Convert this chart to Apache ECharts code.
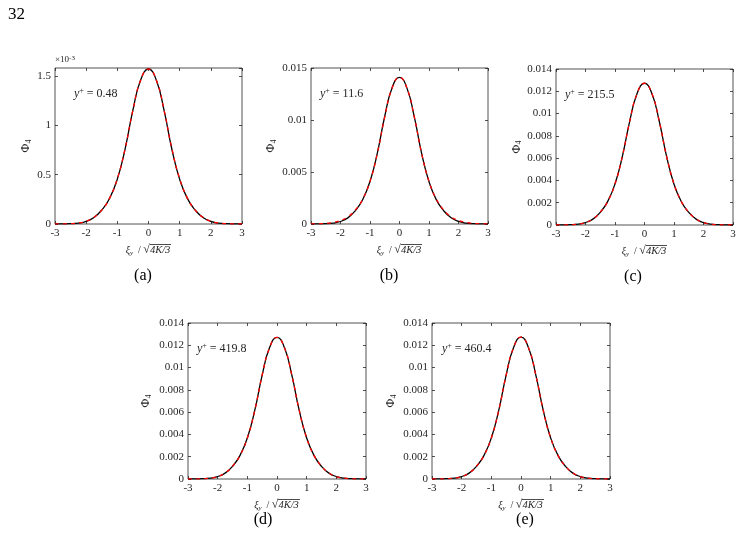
<!DOCTYPE html>
<html>
<head>
<meta charset="utf-8">
<script src="https://cdn.jsdelivr.net/npm/echarts@6/dist/echarts.min.js"></script>
<style>
  html, body { margin: 0; padding: 0; background: #fff; }
  #chart { width: 741px; height: 542px; }
</style>
</head>
<body>
<div id="chart"></div>
<script>
// xi_y / sqrt(4K/3) sample points
const xs = [-3, -2.75, -2.5, -2.25, -2, -1.75, -1.5, -1.25, -1, -0.75, -0.5, -0.25, 0,
  0.25, 0.5, 0.75, 1, 1.25, 1.5, 1.75, 2, 2.25, 2.5, 2.75, 3]

// (a) in units of 1e-3
const phiA = [0.0003, 0.0011, 0.0031, 0.0094, 0.027, 0.066, 0.141, 0.259, 0.455, 0.761, 1.154, 1.460, 1.57,
  1.458, 1.150, 0.757, 0.452, 0.257, 0.140, 0.065, 0.026, 0.009, 0.003, 0.001, 0.0003]
const phiAfit = [0.0002, 0.0009, 0.003, 0.0098, 0.028, 0.067, 0.140, 0.262, 0.459, 0.764, 1.152, 1.458, 1.57,
  1.458, 1.152, 0.764, 0.459, 0.262, 0.140, 0.067, 0.028, 0.0098, 0.003, 0.0009, 0.0002]

const phiB = [0.000003, 0.00001, 0.000028, 0.000085, 0.00024, 0.00059, 0.00127, 0.00233, 0.00409, 0.00684, 0.01036, 0.01311, 0.0141,
  0.01309, 0.01032, 0.00680, 0.00406, 0.00232, 0.00127, 0.00060, 0.00025, 0.00009, 0.00003, 0.00001, 0.000003]
const phiBfit = [0.000005, 0.00002, 0.00006, 0.00015, 0.00034, 0.00069, 0.00134, 0.00238, 0.00410, 0.00680, 0.01030, 0.01308, 0.0141,
  0.01308, 0.01030, 0.00680, 0.00410, 0.00238, 0.00134, 0.00069, 0.00034, 0.00015, 0.00006, 0.00002, 0.000005]

const phiC = [0.0000025, 0.0000089, 0.000025, 0.000076, 0.00022, 0.00053, 0.00114, 0.0021, 0.00368, 0.00616, 0.00933, 0.01181, 0.01272,
  0.01180, 0.00931, 0.00614, 0.00366, 0.00209, 0.00113, 0.00053, 0.00022, 0.000076, 0.000025, 0.0000089, 0.0000025]
const phiCfit = [0.000002, 0.000008, 0.000024, 0.000078, 0.00023, 0.00054, 0.00115, 0.0021, 0.00369, 0.00616, 0.00932, 0.01180, 0.01272,
  0.01180, 0.00932, 0.00616, 0.00369, 0.0021, 0.00115, 0.00054, 0.00023, 0.000078, 0.000024, 0.000008, 0.000002]

const phiD = [0.0000025, 0.0000089, 0.000025, 0.000076, 0.00022, 0.00053, 0.00114, 0.0021, 0.00368, 0.00615, 0.00932, 0.01180, 0.01271,
  0.01180, 0.00932, 0.00615, 0.00368, 0.0021, 0.00114, 0.00053, 0.00022, 0.000076, 0.000025, 0.0000089, 0.0000025]
const phiDfit = [0.000002, 0.000008, 0.000024, 0.000077, 0.00022, 0.00054, 0.00115, 0.0021, 0.00368, 0.00615, 0.00931, 0.01179, 0.01271,
  0.01179, 0.00931, 0.00615, 0.00368, 0.0021, 0.00115, 0.00054, 0.00022, 0.000077, 0.000024, 0.000008, 0.000002]

const phiE = [0.0000025, 0.0000089, 0.000025, 0.000076, 0.00022, 0.00053, 0.00114, 0.0021, 0.00368, 0.00616, 0.00933, 0.01181, 0.01273,
  0.01181, 0.00933, 0.00616, 0.00368, 0.0021, 0.00114, 0.00053, 0.00022, 0.000076, 0.000025, 0.0000089, 0.0000025]
const phiEfit = [0.000002, 0.000008, 0.000024, 0.000077, 0.00022, 0.00054, 0.00115, 0.0021, 0.00369, 0.00616, 0.00932, 0.01180, 0.01273,
  0.01180, 0.00932, 0.00616, 0.00369, 0.0021, 0.00115, 0.00054, 0.00022, 0.000077, 0.000024, 0.000008, 0.000002]

const yPlus = ['0.48', '11.6', '215.5', '419.8', '460.4']
const tags = ['(a)', '(b)', '(c)', '(d)', '(e)']
const yMax = [1.58, 0.015, 0.014, 0.014, 0.014]
const yStep = [0.5, 0.005, 0.002, 0.002, 0.002]
const xTicks = [-3, -2, -1, 0, 1, 2, 3]

const dns = [phiA, phiB, phiC, phiD, phiE]
const fits = [phiAfit, phiBfit, phiCfit, phiDfit, phiEfit]

// layout
const boxes = [
  {left: 55, top: 68, width: 187, height: 156, nameGap: 22, tagX: 143, tagY: 276, annX: 19},
  {left: 311, top: 68, width: 177, height: 156, nameGap: 33, tagX: 389, tagY: 276, annX: 9},
  {left: 556, top: 69, width: 177, height: 156, nameGap: 31, tagX: 633, tagY: 277, annX: 9},
  {left: 188, top: 323, width: 178, height: 156, nameGap: 35, tagX: 263, tagY: 520, annX: 9},
  {left: 432, top: 323, width: 178, height: 156, nameGap: 34, tagX: 525, tagY: 520, annX: 10},
]

const serif = '"Liberation Serif", "DejaVu Serif", serif'
const ink = '#262626'

// small image used as an overline above the radicand
const bar = document.createElement('canvas')
bar.width = 4
bar.height = 20
const bctx = bar.getContext('2d')
bctx.fillStyle = '#333'
bctx.fillRect(0, 0, 4, 1.6)

const xNameRich = {
  i: {fontFamily: serif, fontStyle: 'italic', fontSize: 10, color: ink, lineHeight: 14},
  s: {fontFamily: serif, fontStyle: 'italic', fontSize: 7, color: ink, lineHeight: 8, verticalAlign: 'bottom'},
  n: {fontFamily: serif, fontSize: 10, color: ink, lineHeight: 14},
  r: {fontFamily: serif, fontSize: 12, color: ink, lineHeight: 14},
  o: {fontFamily: serif, fontStyle: 'italic', fontSize: 10.5, color: ink, lineHeight: 14,
    padding: [1, 1, 0, 0], backgroundColor: {image: bar}},
}
const yNameRich = {
  p: {fontFamily: serif, fontSize: 12, color: ink, lineHeight: 14},
  s: {fontFamily: serif, fontSize: 8, color: ink, lineHeight: 8, verticalAlign: 'bottom'},
}

const tickStyle = {inside: true, length: 3, lineStyle: {color: ink, width: 0.8}}

const grid = [], xAxis = [], yAxis = [], series = [], graphic = []

boxes.forEach((b, i) => {
  grid.push({left: b.left, top: b.top, width: b.width, height: b.height,
    show: true, borderColor: ink, borderWidth: 0.8, backgroundColor: '#fff'})
  xAxis.push({
    type: 'value', gridIndex: i, min: -3, max: 3, interval: 1, position: 'bottom',
    axisLine: {show: false, onZero: false},
    axisTick: tickStyle,
    axisLabel: {color: ink, fontFamily: serif, fontSize: 11, margin: 4,
      customValues: xTicks, formatter: v => String(v)},
    splitLine: {show: false},
    name: '{i|ξ}{s|y}{n|  / }{r|√}{o|4K/3}',
    nameLocation: 'middle', nameGap: 19,
    nameTextStyle: {rich: xNameRich},
  })
  xAxis.push({
    type: 'value', gridIndex: i, min: -3, max: 3, interval: 1, position: 'top',
    axisLine: {show: false, onZero: false}, axisLabel: {show: false}, splitLine: {show: false},
    axisTick: tickStyle,
  })
  yAxis.push({
    type: 'value', gridIndex: i, min: 0, max: yMax[i], interval: yStep[i], position: 'left',
    axisLine: {show: false, onZero: false},
    axisTick: tickStyle,
    axisLabel: {color: ink, fontFamily: serif, fontSize: 11, margin: 4, showMaxLabel: i !== 0,
      formatter: v => String(+v.toFixed(4))},
    splitLine: {show: false},
    name: '{p|Φ}{s|4}', nameLocation: 'middle', nameGap: b.nameGap,
    nameTextStyle: {rich: yNameRich},
  })
  yAxis.push({
    type: 'value', gridIndex: i, min: 0, max: yMax[i], interval: yStep[i], position: 'right',
    axisLine: {show: false, onZero: false}, axisLabel: {show: false}, splitLine: {show: false},
    axisTick: tickStyle,
  })
  series.push({
    type: 'line', xAxisIndex: 2 * i, yAxisIndex: 2 * i, smooth: true, symbol: 'none',
    lineStyle: {color: '#000', width: 1.3}, silent: true,
    data: xs.map((x, k) => [x, dns[i][k]]),
  })
  series.push({
    type: 'line', xAxisIndex: 2 * i, yAxisIndex: 2 * i, smooth: true, symbol: 'none',
    lineStyle: {color: '#ff0000', width: 1.3, type: [4, 4]}, silent: true,
    data: xs.map((x, k) => [x, fits[i][k]]),
  })
  graphic.push({
    type: 'text', x: b.left + b.annX, y: b.top + 26,
    style: {
      text: '{i|y}{p|+}{n| = ' + yPlus[i] + '}',
      verticalAlign: 'middle',
      rich: {
        i: {fontFamily: serif, fontStyle: 'italic', fontSize: 12, fill: ink, lineHeight: 14},
        p: {fontFamily: serif, fontSize: 8, fill: ink, lineHeight: 8, verticalAlign: 'top'},
        n: {fontFamily: serif, fontSize: 12, fill: ink, lineHeight: 14},
      },
    },
  })
  graphic.push({
    type: 'text', x: b.tagX, y: b.tagY,
    style: {text: tags[i], font: '16px ' + serif, fill: '#000', align: 'center', verticalAlign: 'middle'},
  })
})

graphic.push({
  type: 'text', x: 8, y: 15,
  style: {text: '32', font: '17px ' + serif, fill: '#000', verticalAlign: 'middle'},
})
graphic.push({
  type: 'text', x: 55, y: 60,
  style: {
    text: '{n|×10}{p|-3}',
    verticalAlign: 'middle',
    rich: {
      n: {fontFamily: serif, fontSize: 9, fill: ink, lineHeight: 11},
      p: {fontFamily: serif, fontSize: 7, fill: ink, lineHeight: 7, verticalAlign: 'top'},
    },
  },
})

const chart = echarts.init(document.getElementById('chart'))
chart.setOption({
  animation: false,
  grid, xAxis, yAxis, series, graphic,
})
</script>
</body>
</html>
